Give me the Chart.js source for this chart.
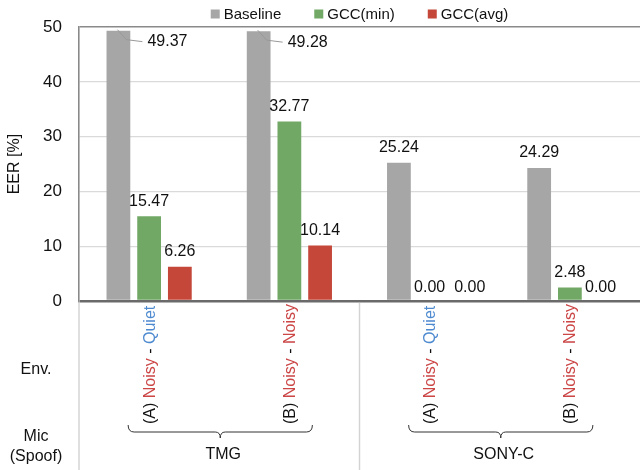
<!DOCTYPE html>
<html><head><meta charset="utf-8">
<script src="https://cdn.jsdelivr.net/npm/chart.js@4.4.0/dist/chart.umd.min.js"></script>
<style>html,body{margin:0;padding:0;background:#fff}#wrap{width:640px;height:470px;position:relative}</style>
</head><body><div id="wrap"><canvas id="c" width="640" height="470"></canvas></div>
<script>
// ---- data ----
const categories = ["(A) Noisy - Quiet", "(B) Noisy - Noisy", "(A) Noisy - Quiet", "(B) Noisy - Noisy"];
const micGroups = ["TMG", "SONY-C"];
const micGroupOf = [0, 0, 1, 1];
const seriesNames = ["Baseline", "GCC(min)", "GCC(avg)"];
const baseline = [49.37, 49.28, 25.24, 24.29];
const gccMin = [15.47, 32.77, 0.00, 2.48];
const gccAvg = [6.26, 10.14, 0.00, 0.00];
const yTicks = [0, 10, 20, 30, 40, 50];
const rowLabels = ["Env.", "Mic", "(Spoof)"];

// ---- styles ----
const FONT = '"Liberation Sans", Arial, Helvetica, sans-serif';
const colors = ['#A6A6A6', '#71A866', '#C4473A'];
const wordColors = { 'Noisy': '#CC4646', 'Quiet': '#4E8AD0' };

const annot = {
  id: 'annot',
  afterDatasetsDraw(chart) {
    const ctx = chart.ctx;
    ctx.save();
    // ---- data labels ----
    ctx.font = '16px ' + FONT;
    ctx.fillStyle = '#111';
    ctx.textBaseline = 'middle';
    for (let i = 0; i < categories.length; i++) {
      let prev = null;
      chart.data.datasets.forEach((ds, di) => {
        const bar = chart.getDatasetMeta(di).data[i];
        const v = ds.data[i];
        const txt = v.toFixed(2);
        const w = ctx.measureText(txt).width;
        if (v > 45) {
          ctx.strokeStyle = '#999';
          ctx.lineWidth = 1;
          ctx.beginPath();
          ctx.moveTo(bar.x - 1, bar.y - 1);
          ctx.lineTo(bar.x + 8, bar.y + 9);
          ctx.lineTo(bar.x + 24, bar.y + 11);
          ctx.stroke();
          ctx.textAlign = 'left';
          ctx.fillText(txt, bar.x + 29, bar.y + 11);
          prev = { right: bar.x + 29 + w, y: bar.y + 11 };
        } else {
          let cx = bar.x;
          const cy = bar.y - (v === 0 ? 13 : 15);
          if (prev && Math.abs(prev.y - cy) < 14 && cx - w / 2 < prev.right + 9) cx = prev.right + 9 + w / 2;
          ctx.textAlign = 'center';
          ctx.fillText(txt, cx, cy);
          prev = { right: cx + w / 2, y: cy };
        }
      });
    }
    ctx.restore();
  },
  afterDraw(chart) {
    const ctx = chart.ctx;
    const ca = chart.chartArea;
    const xs = chart.scales.x;
    ctx.save();
    // ---- legend ----
    ctx.font = '15px ' + FONT;
    ctx.textBaseline = 'middle';
    ctx.textAlign = 'left';
    const box = 9, gap = 4, spacing = 33;
    const widths = seriesNames.map(n => ctx.measureText(n).width);
    let total = widths.reduce((a, b) => a + b, 0) + seriesNames.length * (box + gap) + spacing * (seriesNames.length - 1);
    let lx = (ca.left + ca.right) / 2 - total / 2;
    const ly = 14;
    seriesNames.forEach((n, k) => {
      ctx.fillStyle = colors[k];
      ctx.fillRect(lx, ly - box / 2, box, box);
      ctx.fillStyle = '#111';
      ctx.fillText(n, lx + box + gap, ly + 1);
      lx += box + gap + widths[k] + spacing;
    });

    // ---- separators below axis ----
    ctx.strokeStyle = '#d4d4d4';
    ctx.lineWidth = 1.5;
    const sepXs = [ca.left];
    for (let i = 1; i < categories.length; i++) {
      if (micGroupOf[i] !== micGroupOf[i - 1]) sepXs.push((xs.getPixelForValue(i - 1) + xs.getPixelForValue(i)) / 2);
    }
    sepXs.forEach(sx => {
      ctx.beginPath(); ctx.moveTo(sx, ca.bottom + 2); ctx.lineTo(sx, 470); ctx.stroke();
    });

    // ---- row labels ----
    ctx.font = '16px ' + FONT;
    ctx.fillStyle = '#111';
    ctx.textAlign = 'center';
    ctx.textBaseline = 'middle';
    ctx.fillText(rowLabels[0], 36, 370);
    ctx.fillText(rowLabels[1], 36, 437);
    ctx.fillText(rowLabels[2], 36, 457);

    // ---- rotated category labels ----
    categories.forEach((lab, i) => {
      const px = xs.getPixelForValue(i) + 1;
      ctx.save();
      ctx.translate(px, 424);
      ctx.rotate(-Math.PI / 2);
      ctx.textAlign = 'left';
      ctx.textBaseline = 'middle';
      const parts = lab.split(/(\s+)/);
      let tx = 0;
      parts.forEach(p => {
        ctx.fillStyle = wordColors[p] || '#111';
        ctx.fillText(p, tx, 0);
        tx += ctx.measureText(p).width;
      });
      ctx.restore();
    });

    // ---- braces and group labels ----
    micGroups.forEach((g, gi) => {
      const idx = micGroupOf.map((m, i) => m === gi ? i : -1).filter(i => i >= 0);
      const x1 = xs.getPixelForValue(idx[0]) - 21;
      const x2 = xs.getPixelForValue(idx[idx.length - 1]) + 23;
      const xm = (x1 + x2) / 2;
      const yt = 425, ym = 432, yb = 438;
      ctx.strokeStyle = '#333';
      ctx.lineWidth = 1;
      ctx.beginPath();
      ctx.moveTo(x1, yt);
      ctx.quadraticCurveTo(x1, ym, x1 + 6, ym);
      ctx.lineTo(xm - 5, ym);
      ctx.quadraticCurveTo(xm, ym, xm, yb);
      ctx.quadraticCurveTo(xm, ym, xm + 5, ym);
      ctx.lineTo(x2 - 6, ym);
      ctx.quadraticCurveTo(x2, ym, x2, yt);
      ctx.stroke();
      ctx.fillStyle = '#111';
      ctx.font = '16px ' + FONT;
      ctx.textAlign = 'center';
      ctx.textBaseline = 'middle';
      ctx.fillText(g, xm + 3, 455);
    });
    ctx.restore();
  }
};

new Chart(document.getElementById('c'), {
  type: 'bar',
  data: {
    labels: categories,
    datasets: [
      { label: seriesNames[0], data: baseline, backgroundColor: colors[0] },
      { label: seriesNames[1], data: gccMin, backgroundColor: colors[1] },
      { label: seriesNames[2], data: gccAvg, backgroundColor: colors[2] }
    ]
  },
  options: {
    responsive: false,
    animation: false,
    devicePixelRatio: 1,
    categoryPercentage: 0.657,
    barPercentage: 0.774,
    layout: { padding: { top: 27, right: -5, bottom: 169, left: 0 } },
    plugins: { legend: { display: false }, tooltip: { enabled: false } },
    scales: {
      x: { display: false },
      y: {
        min: 0, max: 50,
        afterFit(scale) { scale.width = 79; },
        afterBuildTicks(scale) { scale.ticks = yTicks.map(v => ({ value: v })); },
        ticks: { color: '#111', font: { family: FONT, size: 17 }, padding: 17 },
        grid: {
          drawTicks: false,
          color: c => c.tick.value === 0 ? '#6a6a6a' : (c.tick.value === 50 ? '#8a8a8a' : '#dadada'),
          lineWidth: c => c.tick.value === 0 ? 2.5 : (c.tick.value === 50 ? 1.6 : 1.2)
        },
        border: { display: true, color: '#8a8a8a', width: 1.6 },
        title: { display: true, text: 'EER [%]', color: '#111', font: { family: FONT, size: 16 }, padding: { top: 5, bottom: 0 } }
      }
    }
  },
  plugins: [annot]
});
</script>
</body></html>
